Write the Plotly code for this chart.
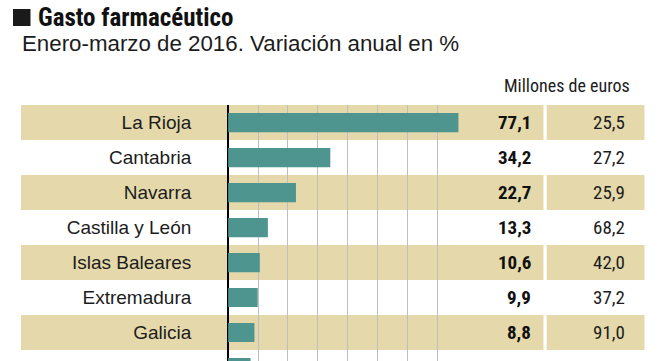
import plotly.graph_objects as go

# ---- data ----
regiones = ["La Rioja", "Cantabria", "Navarra", "Castilla y León", "Islas Baleares",
            "Extremadura", "Galicia", "C. Valenciana"]
variacion = [77.1, 34.2, 22.7, 13.3, 10.6, 9.9, 8.8, 7.5]
millones = [25.5, 27.2, 25.9, 68.2, 42.0, 37.2, 91.0, None]
x_ticks = [-10, 0, 10, 20, 30, 40, 50, 60, 70, 80]

W, H = 664, 361
BAND = "#e5d9ab"
BAR = "#4f958f"
GRID = "#bfbfbf"
TXT = "#1c1c1c"
NARROW = "Liberation Sans Narrow, Arial Narrow, Roboto Condensed, sans-serif"
SANS = "Liberation Sans, Arial, Helvetica, sans-serif"

row_top = 105
row_h = 35
n_rows_visible = (H - row_top) / row_h
y_domain = [0, 1 - row_top / H]
y_range = [n_rows_visible - 0.5, -0.5]


def px(x):
    return x / W


def py(y):
    return 1 - y / H


def row_to_paper(i):
    # same linear mapping as the y axis (range reversed)
    frac = (y_range[0] - i) / (y_range[0] - y_range[1])
    return y_domain[0] + frac * (y_domain[1] - y_domain[0])


def fmt(v):
    return "" if v is None else f"{v:.1f}".replace(".", ",")


fig = go.Figure()
fig.add_trace(go.Bar(
    x=variacion, y=regiones, orientation="h",
    marker=dict(color=BAR, line=dict(width=0)),
    width=0.55, hoverinfo="skip",
))

shapes = []
for i, r in enumerate(regiones):
    if i % 2 == 0:
        shapes.append(dict(type="rect", xref="paper", yref="y", x0=px(21), x1=px(543.5),
                           y0=i - 0.5, y1=i + 0.5, fillcolor=BAND, line=dict(width=0),
                           layer="below"))
        shapes.append(dict(type="rect", xref="paper", yref="y", x0=px(546.7), x1=px(644.5),
                           y0=i - 0.5, y1=i + 0.5, fillcolor=BAND, line=dict(width=0),
                           layer="below"))
# title square
shapes.append(dict(type="rect", xref="paper", yref="paper", x0=px(13), x1=px(30.5),
                   y0=py(26), y1=py(9), fillcolor="#1a1a1a", line=dict(width=0)))

annotations = [
    dict(text="<b>Gasto farmacéutico</b>", xref="paper", yref="paper", x=px(36), y=py(18),
         xanchor="left", yanchor="middle", showarrow=False,
         font=dict(family=NARROW, size=25, color="#111")),
    dict(text="Enero-marzo de 2016. Variación anual en %", xref="paper", yref="paper",
         x=px(20), y=py(43.5), xanchor="left", yanchor="middle", showarrow=False,
         font=dict(family=SANS, size=22.3, color=TXT)),
    dict(text="Millones de euros", xref="paper", yref="paper", x=px(632), y=py(86),
         xanchor="right", yanchor="middle", showarrow=False,
         font=dict(family=NARROW, size=18, color=TXT)),
]
for i, (r, v, m) in enumerate(zip(regiones, variacion, millones)):
    if i + 0.5 > y_range[0]:
        # partially visible last row: label only (its value columns fall off the page)
        annotations.append(dict(text=r, xref="paper", yref="paper", x=px(191.5),
                                y=row_to_paper(i), xanchor="right", yanchor="middle",
                                showarrow=False, font=dict(family=SANS, size=19, color=TXT)))
        continue
    if m is None:
        continue
    annotations.append(dict(text=f"<b>{fmt(v)}</b>", xref="paper", yref="y", x=px(533), y=r,
                            xanchor="right", yanchor="middle", showarrow=False,
                            font=dict(family=NARROW, size=19, color="#111")))
    annotations.append(dict(text=fmt(m), xref="paper", yref="y", x=px(627), y=r,
                            xanchor="right", yanchor="middle", showarrow=False,
                            font=dict(family=NARROW, size=19, color=TXT)))

fig.update_layout(
    width=W, height=H,
    margin=dict(l=0, r=0, t=0, b=0),
    paper_bgcolor="white", plot_bgcolor="rgba(0,0,0,0)",
    showlegend=False,
    shapes=shapes, annotations=annotations,
    xaxis=dict(domain=[px(198.3), px(467.1)], range=[-10, 80], tickvals=x_ticks,
               showticklabels=False, showgrid=True, gridcolor=GRID, gridwidth=1,
               zeroline=True, zerolinecolor="#000", zerolinewidth=2, showline=False,
               fixedrange=True),
    yaxis=dict(domain=y_domain, type="category", categoryorder="array",
               categoryarray=regiones, range=y_range,
               showgrid=False, zeroline=False, showline=False, ticks="",
               ticklabelstandoff=6,
               tickfont=dict(family=SANS, size=19, color=TXT), fixedrange=True),
)

fig.write_html("out.html", config={"displayModeBar": False},
               post_script="document.body.style.margin='0';document.body.style.overflow='hidden';")
